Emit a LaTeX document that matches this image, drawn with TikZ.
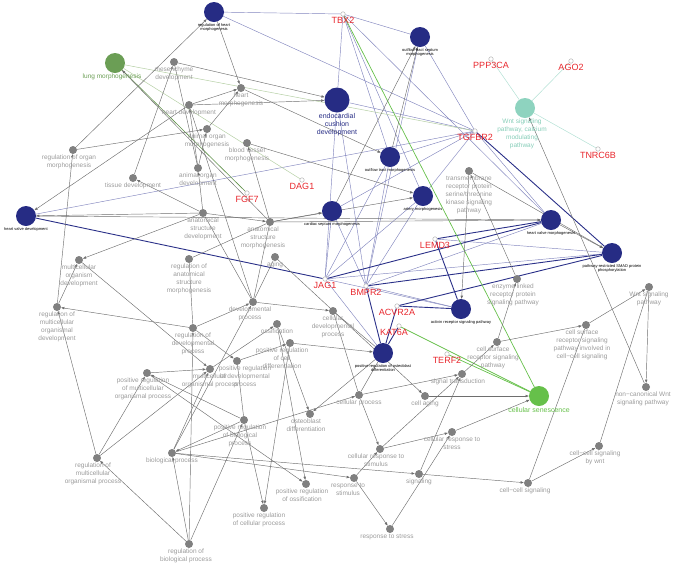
\documentclass[tikz,border=0pt]{standalone}
\usepackage{fontspec}
\setmainfont{Liberation Sans}
\usetikzlibrary{arrows.meta}
\definecolor{navy}{HTML}{262C84}
\definecolor{nodegray}{HTML}{808080}
\definecolor{labgray}{HTML}{9B9B9B}
\definecolor{edgegray}{HTML}{6E6E6E}
\definecolor{lblue}{HTML}{8286BE}
\definecolor{dblue}{HTML}{2A3088}
\definecolor{genered}{HTML}{E8262C}
\definecolor{lunggreen}{HTML}{6B9E55}
\definecolor{sengreen}{HTML}{66C04A}
\definecolor{tealnode}{HTML}{8ED3BF}
\definecolor{tealtext}{HTML}{86CDB8}
\definecolor{lgreen}{HTML}{B5CFA5}
\definecolor{dgreen}{HTML}{5E8F47}
\definecolor{lteal}{HTML}{B2E0D4}
\pgfdeclarelayer{bg}
\pgfsetlayers{bg,main}
\newcommand{\nlab}[3]{\node[#1,anchor=north] (L#2) at (#2.south) {#3};}
\begin{document}
\begin{tikzpicture}[x=1pt,y=-1pt,
  bnode/.style={circle,fill=navy,minimum size=20pt,inner sep=0pt},
  gnode/.style={circle,fill=nodegray,minimum size=8pt,inner sep=0pt},
  hnode/.style={circle,draw=nodegray!70,fill=white,line width=0.4pt,minimum size=4.5pt,inner sep=0pt},
  glab/.style={font=\fontsize{6.5}{8}\selectfont,text=labgray,align=center,inner sep=0.6pt},
  tlab/.style={font=\fontsize{4}{4.6}\selectfont,text=black,align=center,inner sep=0.8pt},
  rlab/.style={font=\fontsize{9}{10}\selectfont,text=genered,inner sep=0.6pt},
  ge/.style={draw=edgegray,line width=0.45pt},
  ga/.style={ge,-{Triangle[length=3.2pt,width=2.4pt]}},
  lb/.style={draw=lblue,line width=0.45pt},
  db/.style={draw=dblue,line width=0.9pt},
  lg/.style={draw=lgreen,line width=0.5pt},
  dg/.style={draw=dgreen,line width=0.6pt},
  sg/.style={draw=sengreen,line width=0.7pt},
  te/.style={draw=lteal,line width=0.5pt}]
\useasboundingbox (0,0) rectangle (673,566);
% ---------- big term nodes ----------
\node[bnode] (rhm) at (214,12) {};
\node[bnode] (ots) at (420,37) {};
\node[bnode,minimum size=25pt] (ecd) at (337,100) {};
\node[bnode] (otm) at (390,157) {};
\node[bnode] (art) at (423,196) {};
\node[bnode] (csm) at (332,211) {};
\node[bnode] (hvd) at (26,216) {};
\node[bnode] (hvm) at (551,220) {};
\node[bnode] (smad) at (612,253) {};
\node[bnode] (act) at (461,309) {};
\node[bnode] (prod) at (383,353) {};
\node[circle,fill=lunggreen,minimum size=20pt,inner sep=0pt] (lung) at (115,63) {};
\node[circle,fill=tealnode,minimum size=20pt,inner sep=0pt] (wntc) at (525,108) {};
\node[circle,fill=sengreen,minimum size=20pt,inner sep=0pt] (cs) at (539,396) {};
% ---------- genes ----------
\node[hnode] (tbx2) at (343,14) {};
\node[hnode] (ppp) at (491,59) {};
\node[hnode] (ago) at (571,61) {};
\node[hnode] (tnr) at (598,149) {};
\node[hnode] (tgf) at (475,131) {};
\node[hnode] (dag) at (302,180) {};
\node[hnode] (fgf) at (247,193) {};
\node[hnode] (lem) at (435,239) {};
\node[hnode] (jag) at (325,279) {};
\node[hnode] (bmp) at (366,286) {};
\node[hnode] (acv) at (397,306) {};
\node[hnode] (kat) at (399,326) {};
\node[hnode] (ter) at (447,354) {};
% ---------- gray terms ----------
\node[gnode] (mes) at (174,62) {};
\node[gnode] (hd) at (189,105) {};
\node[gnode] (hm) at (241,88) {};
\node[gnode] (aom) at (207,129) {};
\node[gnode] (rom) at (73,150) {};
\node[gnode] (aod) at (198,168) {};
\node[gnode] (td) at (133,178) {};
\node[gnode] (bvm) at (247,143) {};
\node[gnode] (asd) at (203,213) {};
\node[gnode] (mod) at (79,260) {};
\node[gnode] (rasm) at (189,259) {};
\node[gnode] (rmod) at (57,307) {};
\node[gnode] (rdp) at (193,328) {};
\node[gnode] (asm) at (270,222) {};
\node[gnode] (aging) at (275,257) {};
\node[gnode] (dp) at (253,302) {};
\node[gnode] (cdp) at (333,311) {};
\node[gnode] (oss) at (277,324) {};
\node[gnode] (prcd) at (290,343) {};
\node[gnode] (tm) at (469,171) {};
\node[gnode] (elr) at (517,279) {};
\node[gnode] (wsp) at (649,287) {};
\node[gnode] (csr) at (497,342) {};
\node[gnode] (csri) at (586,325) {};
\node[gnode] (prmop) at (147,373) {};
\node[gnode] (mop) at (210,369) {};
\node[gnode] (prdp) at (237,361) {};
\node[gnode] (prbp) at (244,420) {};
\node[gnode] (rmop) at (97,458) {};
\node[gnode] (bp) at (172,453) {};
\node[gnode] (rbp) at (189,544) {};
\node[gnode] (cp) at (359,395) {};
\node[gnode] (ca) at (425,396) {};
\node[gnode] (od) at (310,414) {};
\node[gnode] (crs) at (380,449) {};
\node[gnode] (pro) at (306,484) {};
\node[gnode] (rs) at (354,478) {};
\node[gnode] (sig) at (419,474) {};
\node[gnode] (prcp) at (264,508) {};
\node[gnode] (rst) at (390,529) {};
\node[gnode] (st) at (462,374) {};
\node[gnode] (crst) at (452,432) {};
\node[gnode] (ccsw) at (599,446) {};
\node[gnode] (ccs) at (528,483) {};
\node[gnode] (ncw) at (646,387) {};
% ---------- labels ----------
\nlab{tlab}{rhm}{regulation of heart\\morphogenesis}
\nlab{tlab}{ots}{outflow tract septum\\morphogenesis}
\nlab{font=\fontsize{7}{8}\selectfont,text=navy,align=center,inner sep=1pt}{ecd}{endocardial\\cushion\\development}
\nlab{tlab}{otm}{outflow tract morphogenesis}
\nlab{tlab}{art}{artery morphogenesis}
\nlab{tlab}{csm}{cardiac septum morphogenesis}
\nlab{tlab}{hvd}{heart valve development}
\nlab{tlab}{hvm}{heart valve morphogenesis}
\nlab{tlab}{smad}{pathway{-}restricted SMAD protein\\phosphorylation}
\nlab{tlab}{act}{activin receptor signaling pathway}
\nlab{tlab}{prod}{positive regulation of osteoblast\\differentiation}
\nlab{glab,text=lunggreen,xshift=-3pt}{lung}{lung morphogenesis}
\nlab{glab,text=tealtext,xshift=-3pt}{wntc}{Wnt signaling\\pathway, calcium\\modulating\\pathway}
\nlab{glab,text=sengreen,font=\fontsize{7}{8}\selectfont}{cs}{cellular senescence}
\nlab{rlab}{tbx2}{TBX2}
\nlab{rlab}{ppp}{PPP3CA}
\nlab{rlab}{ago}{AGO2}
\nlab{rlab}{tnr}{TNRC6B}
\nlab{rlab}{tgf}{TGFBR2}
\nlab{rlab}{dag}{DAG1}
\nlab{rlab}{fgf}{FGF7}
\nlab{rlab}{lem}{LEMD3}
\nlab{rlab}{jag}{JAG1}
\nlab{rlab}{bmp}{BMPR2}
\nlab{rlab}{acv}{ACVR2A}
\nlab{rlab,xshift=-5pt}{kat}{KAT6A}
\nlab{rlab}{ter}{TERF2}
\nlab{glab}{mes}{mesenchyme\\development}
\nlab{glab}{hd}{heart development}
\nlab{glab}{hm}{heart\\morphogenesis}
\nlab{glab}{aom}{animal organ\\morphogenesis}
\nlab{glab,xshift=-4pt}{rom}{regulation of organ\\morphogenesis}
\nlab{glab}{aod}{animal organ\\development}
\nlab{glab}{td}{tissue development}
\nlab{glab}{bvm}{blood vessel\\morphogenesis}
\nlab{glab}{asd}{anatomical\\structure\\development}
\nlab{glab}{mod}{multicellular\\organism\\development}
\nlab{glab}{rasm}{regulation of\\anatomical\\structure\\morphogenesis}
\nlab{glab}{rmod}{regulation of\\multicellular\\organismal\\development}
\nlab{glab}{rdp}{regulation of\\developmental\\process}
\nlab{glab,xshift=-7pt}{asm}{anatomical\\structure\\morphogenesis}
\nlab{glab}{aging}{aging}
\nlab{glab,xshift=-3pt}{dp}{developmental\\process}
\nlab{glab}{cdp}{cellular\\developmental\\process}
\nlab{glab}{oss}{ossification}
\nlab{glab,xshift=-8pt}{prcd}{positive regulation\\of cell\\differentiation}
\nlab{glab}{tm}{transmembrane\\receptor protein\\serine/threonine\\kinase signaling\\pathway}
\nlab{glab,xshift=-4pt}{elr}{enzyme linked\\receptor protein\\signaling pathway}
\nlab{glab}{wsp}{Wnt signaling\\pathway}
\nlab{glab,xshift=-4pt}{csr}{cell surface\\receptor signaling\\pathway}
\nlab{glab,xshift=-4pt}{csri}{cell surface\\receptor signaling\\pathway involved in\\cell−cell signaling}
\nlab{glab,xshift=-4pt}{prmop}{positive regulation\\of multicellular\\organismal process}
\nlab{glab}{mop}{multicellular\\organismal process}
\nlab{glab,xshift=8pt}{prdp}{positive regulation\\of developmental\\process}
\nlab{glab,xshift=-4pt}{prbp}{positive regulation\\of biological\\process}
\nlab{glab,xshift=-4pt}{rmop}{regulation of\\multicellular\\organismal process}
\nlab{glab}{bp}{biological process}
\nlab{glab,xshift=-3pt}{rbp}{regulation of\\biological process}
\nlab{glab}{cp}{cellular process}
\nlab{glab}{ca}{cell aging}
\nlab{glab,xshift=-4pt}{od}{osteoblast\\differentiation}
\nlab{glab,xshift=-4pt}{crs}{cellular response to\\stimulus}
\nlab{glab,xshift=-4pt}{pro}{positive regulation\\of ossification}
\nlab{glab,xshift=-6pt}{rs}{response to\\stimulus}
\nlab{glab}{sig}{signaling}
\nlab{glab,xshift=-5pt}{prcp}{positive regulation\\of cellular process}
\nlab{glab,xshift=-3pt}{rst}{response to stress}
\nlab{glab,xshift=-4pt}{st}{signal transduction}
\nlab{glab}{crst}{cellular response to\\stress}
\nlab{glab,xshift=-4pt}{ccsw}{cell−cell signaling\\by wnt}
\nlab{glab,xshift=-3pt}{ccs}{cell−cell signaling}
\nlab{glab,xshift=-3pt}{ncw}{non−canonical Wnt\\signaling pathway}
% ---------- edges ----------
\begin{pgfonlayer}{bg}
% gene edges: light blue
\foreach \t in {rhm,ots,ecd,otm,art,hvm} \draw[lb] (tbx2) -- (\t);
\foreach \t in {rhm,ots,ecd,otm,csm,art,hvd,hvm} \draw[lb] (tgf) -- (\t);
\foreach \t in {ecd,csm,otm,art,prod,act,smad} \draw[lb] (jag) -- (\t);
\foreach \t in {ecd,csm,otm,art,ots,act,hvm} \draw[lb] (bmp) -- (\t);
\draw[lb] (lem) -- (smad);
% dark blue
\draw[db] (tgf) -- (smad);
\draw[db] (jag) -- (hvd);
\draw[db] (jag) -- (hvm);
\draw[db] (bmp) -- (smad);
\draw[db] (bmp) -- (prod);
\draw[db] (acv) -- (act);
\draw[db] (acv) -- (smad);
\draw[db] (acv) -- (prod);
\draw[db] (lem) -- (act);
\draw[db] (lem) -- (hvm);
\draw[db] (kat) -- (prod);
% green and teal
\draw[sg] (tbx2) -- (cs);
\draw[sg] (kat) -- (cs);
\draw[sg] (ter) -- (cs);
\draw[dg] (fgf) -- (lung);
\draw[lg] (dag) -- (lung);
\draw[lg] (tgf) -- (lung);
\draw[te] (wntc) -- (ppp);
\draw[te] (wntc) -- (ago);
\draw[te] (wntc) -- (tnr);
% gray hierarchy
\draw[ga] (rom) -- (rhm);
\draw[ga] (rom) -- (aom);
\draw[ga] (rmod) -- (rom);
\draw[ga] (rmod) -- (mod);
\draw[ga] (rdp) -- (rmod);
\draw[ga] (rmop) -- (rmod);
\draw[ga] (hd) -- (hvd);
\draw[ga] (hd) -- (hm);
\draw[ga] (hd) -- (ecd);
\draw[ga] (mes) -- (ecd);
\draw[ga] (td) -- (mes);
\draw[ga] (asd) -- (td);
\draw[ga] (asd) -- (mod);
\draw[ga] (asd) -- (aod);
\draw[ga] (asd) -- (asm);
\draw[ga] (asd) -- (hvd);
\draw[ga] (aod) -- (aom);
\draw[ga] (aod) -- (hd);
\draw[ge] (mes) -- (aod);
\draw[ga] (aom) -- (hm);
\draw[ga] (rhm) -- (hm);
\draw[ga] (hm) -- (otm);
\draw[ga] (bvm) -- (art);
\draw[ga] (asm) -- (bvm);
\draw[ga] (asm) -- (csm);
\draw[ga] (asm) -- (hvm);
\draw[ga] (asm) -- (art);
\draw[ga] (asm) -- (lung);
\draw[ga] (hvd) -- (hvm);
\draw[ga] (otm) -- (ots);
\draw[ga] (csm) -- (ots);
\draw[ga] (hvm) -- (smad);
\draw[ga] (tm) -- (smad);
\draw[ga] (tm) -- (act);
\draw[ga] (elr) -- (tm);
\draw[ga] (csr) -- (elr);
\draw[ga] (st) -- (csr);
\draw[ga] (csr) -- (csri);
\draw[ga] (csri) -- (wsp);
\draw[ga] (wsp) -- (ncw);
\draw[ge] (wsp) -- (ccsw);
\draw[ga] (ncw) -- (wntc);
\draw[ga] (ccs) -- (ccsw);
\draw[ge] (ccs) -- (csri);
\draw[ga] (sig) -- (ccs);
\draw[ga] (sig) -- (st);
\draw[ga] (cp) -- (st);
\draw[ga] (crs) -- (st);
\draw[ga] (crs) -- (crst);
\draw[ga] (rst) -- (crst);
\draw[ga] (crst) -- (cs);
\draw[ga] (ca) -- (cs);
\draw[ga] (aging) -- (ca);
\draw[ga] (cp) -- (crs);
\draw[ga] (rs) -- (crs);
\draw[ga] (rs) -- (rst);
\draw[ga] (bp) -- (rs);
\draw[ga] (bp) -- (sig);
\draw[ga] (bp) -- (cp);
\draw[ga] (bp) -- (mop);
\draw[ga] (bp) -- (dp);
\draw[ga] (prbp) -- (bp);
\draw[ga] (rbp) -- (bp);
\draw[ga] (rbp) -- (rmop);
\draw[ga] (rbp) -- (rdp);
\draw[ga] (rbp) -- (prbp);
\draw[ga] (prbp) -- (prcp);
\draw[ga] (prbp) -- (prmop);
\draw[ga] (rmop) -- (prmop);
\draw[ga] (rmop) -- (mop);
\draw[ga] (prmop) -- (mop);
\draw[ga] (mod) -- (mop);
\draw[ga] (rdp) -- (prdp);
\draw[ga] (rdp) -- (dp);
\draw[ge] (rdp) -- (rasm);
\draw[ge] (rasm) -- (asm);
\draw[ge] (prdp) -- (prbp);
\draw[ga] (prdp) -- (prcd);
\draw[ga] (prcd) -- (prod);
\draw[ga] (prcd) -- (prcp);
\draw[ga] (oss) -- (od);
\draw[ga] (oss) -- (pro);
\draw[ga] (prmop) -- (pro);
\draw[ga] (mop) -- (oss);
\draw[ga] (prod) -- (od);
\draw[ga] (dp) -- (cdp);
\draw[ge] (dp) -- (aging);
\draw[ge] (dp) -- (asm);
\draw[ge] (dp) -- (asd);
\draw[ge] (cp) -- (cdp);
\draw[ge] (cdp) -- (prod);
\draw[ge] (prod) -- (cp);
\draw[ge] (hd) -- (dp);
\end{pgfonlayer}
\end{tikzpicture}
\end{document}
